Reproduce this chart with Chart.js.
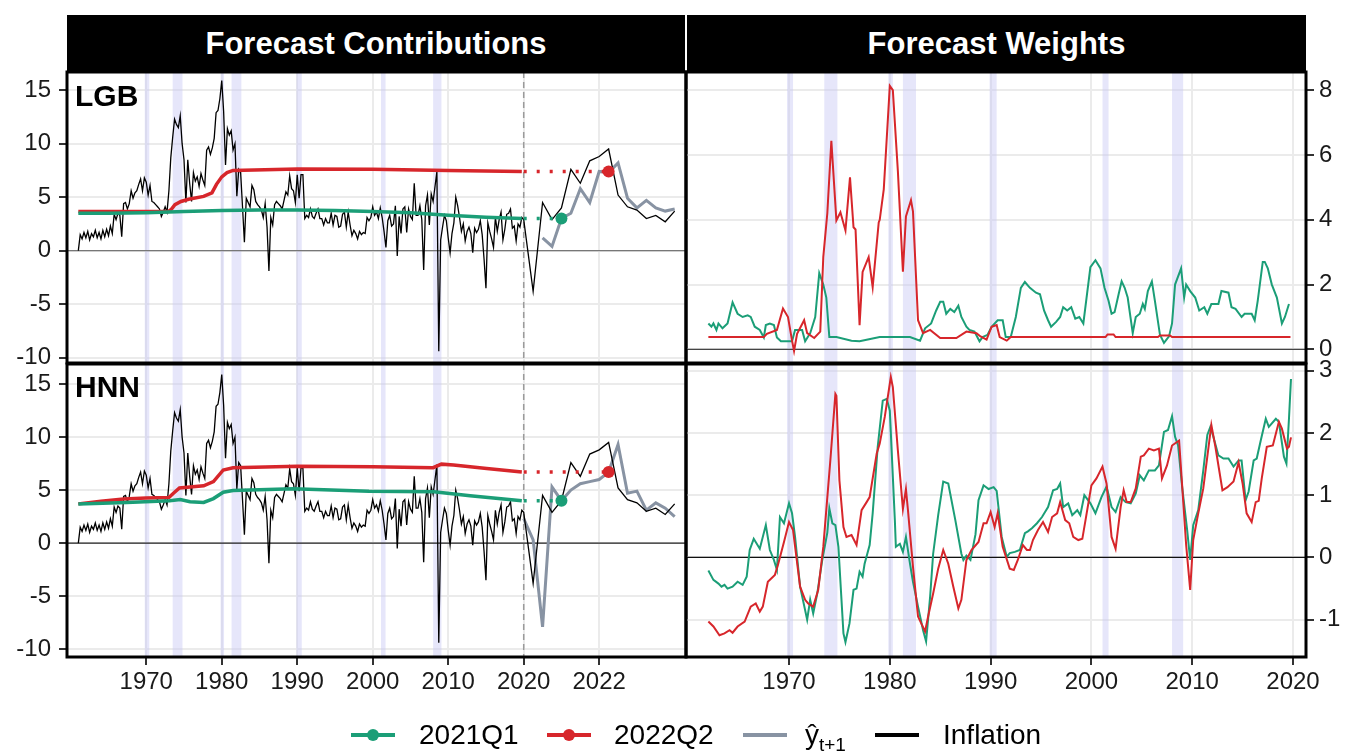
<!DOCTYPE html>
<html>
<head>
<meta charset="utf-8">
<script src="https://cdn.jsdelivr.net/npm/chart.js@4.4.1/dist/chart.umd.min.js"></script>
<style>
  body { margin: 0; width: 1346px; height: 751px; overflow: hidden; position: relative; background: #fff;
         font-family: "Liberation Sans", Arial, sans-serif; }
  canvas { position: absolute; left: 0; top: 0; }
  .strip { position: absolute; top: 15px; height: 57px; background: #000; color: #fff; font-weight: bold;
           font-size: 31px; display: flex; align-items: center; justify-content: center; }
  .lab { position: absolute; font-weight: bold; font-size: 30px; line-height: 30px; color: #000; }
  .sw { position: absolute; top: 733px; width: 44px; height: 4px; }
  .dot { position: absolute; top: 729px; width: 12px; height: 12px; border-radius: 50%; }
  .lt { position: absolute; top: 719px; font-size: 28px; line-height: 32px; color: #000; }
  .lt sub { font-size: 19px; }
</style>
</head>
<body>
<div class="strip" style="left:67px;width:618px">Forecast Contributions</div>
<div class="strip" style="left:687px;width:619px">Forecast Weights</div>

<canvas id="lt" width="1346" height="751"></canvas>
<canvas id="lb" width="1346" height="751"></canvas>
<canvas id="rt" width="1346" height="751"></canvas>
<canvas id="rb" width="1346" height="751"></canvas>

<div class="lab" style="left:75px;top:81px">LGB</div>
<div class="lab" style="left:75px;top:372px">HNN</div>

<div class="sw" style="left:351px;background:#1b9e77"></div>
<div class="dot" style="left:367px;background:#1b9e77"></div>
<div class="lt" style="left:419px">2021Q1</div>
<div class="sw" style="left:547px;background:#d7262b"></div>
<div class="dot" style="left:563px;background:#d7262b"></div>
<div class="lt" style="left:614px">2022Q2</div>
<div class="sw" style="left:743px;background:#8893a3"></div>
<div class="lt" style="left:805px">ŷ<sub>t+1</sub></div>
<div class="sw" style="left:875px;background:#000"></div>
<div class="lt" style="left:943px">Inflation</div>

<script>
// quarterly inflation, 1961Q1 .. 2024Q1
const START_YEAR = 1961;
const inflation = [
  0.0, 1.5, 1.1, 1.7,   1.2, 1.8, 1.0, 1.6,   1.3, 1.9, 1.2, 1.7,   1.1, 1.9, 1.3, 2.0,   // 1961-64
  1.4, 2.3, 1.6, 3.4,   2.9, 3.5, 3.3, 1.3,   4.4, 4.5, 3.9, 4.4,   5.6, 4.9, 5.4, 5.6,   // 1965-68
  6.2, 6.7, 5.6, 6.8,   6.4, 5.2, 6.1, 4.6,   4.5, 4.3, 4.1, 3.9,   3.2, 3.6, 4.1, 3.6,   // 1969-72
  5.6, 8.7, 10.6, 12.3, 11.8, 11.5, 12.6, 10.0, 8.5, 4.5, 8.5, 6.3,  4.6, 7.3, 6.5, 6.9,  // 1973-76
  6.0, 7.2, 6.6, 6.1,   9.4, 9.7, 9.0, 9.6,   10.5, 12.9, 13.1, 14.2, 15.9, 13.0, 8.0, 11.4, // 1977-80
  10.8, 11.2, 9.4, 10.0, 5.1, 7.6, 7.3, 4.1,  0.8, 4.9, 4.5, 4.1,   6.1, 5.7, 4.6, 4.3,   // 1981-84
  4.1, 3.8, 3.1, 4.4,   2.2, -1.9, 3.1, 2.4,  4.3, 4.6, 4.4, 4.2,   3.9, 4.7, 5.5, 5.2,   // 1985-88
  7.0, 5.8, 5.6, 4.5,   7.1, 4.9, 7.1, 7.1,   3.0, 3.3, 3.1, 3.9,   3.2, 3.0, 3.5, 3.9,   // 1989-92
  3.0, 3.0, 2.4, 3.0,   2.6, 2.6, 3.5, 2.4,   3.3, 3.2, 2.2, 2.3,   3.4, 3.6, 2.2, 3.6,   // 1993-96
  2.4, 1.4, 1.9, 1.6,   1.1, 1.8, 1.5, 1.7,   1.6, 3.1, 2.8, 3.1,   4.1, 3.3, 3.6, 3.0,   // 1997-2000
  4.0, 3.1, 1.8, 0.3,   2.8, 3.3, 2.3, 2.5,   4.2, -0.5, 3.2, 1.6,  3.9, 4.1, 1.7, 3.9,   // 2001-04
  3.2, 2.9, 6.3, 3.3,   3.3, 4.2, 2.9, -1.8,  4.2, 5.2, 2.4, 5.3,   4.6, 6.0, 7.4, -9.4,  // 2005-08
  1.0, 2.2, 3.3, 2.8,   1.2, -0.2, 1.6, 2.6,  5.0, 4.2, 3.1, 1.8,   2.5, 0.9, 1.8, 2.2,   // 2009-12
  1.6, -0.2, 2.1, 1.7,  2.0, 2.8, 1.5, -0.8,  -3.5, 2.6, 1.8, 1.1,  0.3, 3.1, 1.8, 2.9,   // 2013-16
  3.6, 1.0, 2.0, 3.4,   3.5, 3.9, 2.1, 2.3,   0.9, 2.5, 2.2, 3.1,                         // 2017-19
  2.9, -3.8, 4.5, 2.9,  4.0, 7.6, 6.3, 8.4,   8.8, 9.5, 5.2, 4.1,   3.8, 3.0, 3.3, 2.7,   // 2020-23
  3.7                                                                                     // 2024
];

// one-step-ahead forecasts, 2020Q1 .. 2024Q1
const yhatLGB = [null, null, 1.2, 0.4, 3.0, 3.5, 5.8, 4.5, 7.4, 7.3, 8.2, 4.9, 4.0, 4.7, 4.0, 3.7, 3.9];
const yhatHNN = [2.3, 0.3, -7.9, 5.3, 4.0, 5.0, 5.6, 5.8, 6.0, 6.7, 9.3, 4.7, 4.9, 3.1, 3.8, 3.3, 2.5];

// forecast contributions [year, value]
const lgbGreen = [[1961,3.5],[1965,3.5],[1970,3.55],[1975,3.65],[1980,3.75],[1985,3.8],[1990,3.8],
  [1995,3.75],[2000,3.67],[2005,3.55],[2010,3.3],[2015,3.12],[2019.75,3.0]];
const lgbRed = [[1961,3.65],[1972.9,3.65],[1973.3,3.85],[1973.8,4.3],[1974.6,4.6],[1975.6,4.8],[1977.6,5.07],
  [1978.7,5.4],[1979.3,6.2],[1980.0,6.9],[1980.7,7.3],[1981.5,7.5],[1990,7.63],[2000,7.62],[2010,7.5],[2019.75,7.4]];
const hnnGreen = [[1961,3.68],[1967.4,3.84],[1973.1,4.0],[1974.5,4.12],[1975.8,3.9],[1977.6,3.84],[1978.9,4.2],
  [1980.2,4.8],[1981.5,4.97],[1989.5,5.13],[1999.5,4.9],[2008.1,4.84],[2012.9,4.47],[2019.75,4.0]];
const hnnRed = [[1961,3.7],[1964,3.95],[1967,4.15],[1970,4.25],[1973,4.3],[1973.6,4.7],[1974.4,5.2],[1977.6,5.4],
  [1978.9,5.8],[1980.2,6.9],[1981.5,7.1],[1990,7.25],[2000,7.2],[2008,7.12],[2009.1,7.45],[2010.7,7.36],
  [2015.1,7.04],[2019.75,6.7]];

// forecast origins and their values
const origin2021Q1 = 2021.0;
const origin2022Q2 = 2022.25;
const lgbDots = [3.0, 7.4];
const hnnDots = [4.0, 6.7];

// forecast weights [year, value]
const lgbWGreen = [[1962.0,0.80],[1962.3,0.70],[1962.5,0.80],[1962.8,0.60],[1963.0,0.80],[1963.4,0.65],[1963.9,0.80],
  [1964.4,1.45],[1964.9,1.10],[1965.4,1.00],[1965.9,1.05],[1966.2,1.00],[1966.6,0.70],[1967.1,0.60],[1967.5,0.37],
  [1967.7,0.75],[1968.1,0.80],[1968.5,0.75],[1968.8,0.37],[1969.2,0.25],[1970.3,0.25],[1970.6,0.60],[1971.3,0.60],
  [1971.6,0.25],[1972.1,0.50],[1972.6,1.00],[1973.0,2.35],[1973.4,2.00],[1973.7,1.60],[1974.0,0.38],[1974.7,0.38],
  [1975.5,0.32],[1976.2,0.27],[1977.0,0.25],[1977.7,0.30],[1979.0,0.38],[1982.0,0.38],[1983.0,0.27],[1983.5,0.65],
  [1984.1,0.80],[1984.6,1.20],[1985.0,1.47],[1985.3,1.47],[1985.6,1.10],[1986.0,1.25],[1986.4,1.15],[1986.8,1.35],
  [1987.1,1.00],[1987.6,0.70],[1987.9,0.60],[1988.4,0.55],[1988.9,0.25],[1989.2,0.38],[1989.7,0.45],[1990.1,0.70],
  [1990.7,0.90],[1991.2,0.90],[1991.5,0.38],[1992.0,0.38],[1992.5,1.00],[1993.0,1.90],[1993.4,2.08],[1993.9,1.90],
  [1994.5,1.75],[1994.9,1.70],[1995.3,1.20],[1995.7,0.90],[1996.0,0.70],[1996.5,0.85],[1996.9,1.00],[1997.2,1.30],
  [1997.6,1.20],[1998.0,1.30],[1998.4,0.95],[1998.8,1.00],[1999.2,0.80],[1999.9,2.54],[2000.4,2.75],[2000.9,2.50],
  [2001.3,1.90],[2001.7,1.50],[2002.0,1.10],[2002.3,1.15],[2002.7,1.70],[2003.0,2.10],[2003.3,1.90],[2003.6,1.60],
  [2004.1,0.50],[2004.4,1.00],[2004.8,1.10],[2005.1,1.40],[2005.3,1.25],[2005.6,1.80],[2006.0,2.10],[2006.3,1.50],
  [2006.8,0.45],[2007.2,0.20],[2007.7,0.40],[2008.0,0.80],[2008.3,2.00],[2008.9,2.50],[2009.2,1.60],[2009.4,2.00],
  [2009.8,1.80],[2010.3,1.60],[2010.7,1.20],[2011.2,1.30],[2011.5,1.10],[2011.9,1.40],[2012.6,1.40],[2012.9,1.80],
  [2013.6,1.75],[2013.9,1.30],[2014.3,1.25],[2014.9,1.00],[2015.2,1.10],[2015.9,1.10],[2016.2,0.90],[2016.5,1.50],
  [2017.0,2.70],[2017.2,2.70],[2017.5,2.50],[2017.9,2.00],[2018.4,1.60],[2018.9,0.80],[2019.2,1.00],[2019.6,1.40]];
const lgbWRed = [[1962.0,0.38],[1967.5,0.38],[1967.8,0.48],[1968.8,0.60],[1969.4,1.26],[1969.9,1.00],[1970.3,0.27],
  [1970.5,-0.05],[1970.8,0.48],[1971.5,0.90],[1971.8,0.50],[1972.5,0.35],[1973.1,0.55],[1973.4,2.85],[1973.8,4.20],
  [1974.2,6.44],[1974.7,3.98],[1975.1,4.23],[1975.6,3.67],[1976.05,5.31],[1976.4,3.77],[1976.6,3.70],[1977.0,0.75],
  [1977.3,2.39],[1977.9,2.85],[1978.3,1.92],[1978.9,3.92],[1979.0,4.00],[1979.4,4.94],[1980.0,8.13],[1980.3,8.00],
  [1980.8,5.50],[1981.3,2.40],[1981.6,4.10],[1982.1,4.60],[1982.3,4.25],[1982.8,0.90],[1983.3,0.50],[1984.0,0.60],
  [1985.0,0.35],[1986.6,0.35],[1987.6,0.55],[1988.6,0.50],[1989.0,0.40],[1989.6,0.30],[1990.1,0.70],[1990.6,0.75],
  [1990.9,0.38],[1991.6,0.27],[1992.0,0.38],[2001.4,0.38],[2001.6,0.46],[2002.2,0.46],[2002.4,0.38],[2006.6,0.38],
  [2006.8,0.43],[2007.8,0.43],[2008.0,0.38],[2019.75,0.38]];
const hnnWGreen = [[1962.0,-0.21],[1962.5,-0.36],[1963.0,-0.42],[1963.3,-0.47],[1963.6,-0.44],[1963.9,-0.50],
  [1964.4,-0.47],[1964.9,-0.39],[1965.4,-0.44],[1965.8,-0.31],[1966.1,0.12],[1966.5,0.30],[1967.1,0.14],[1967.7,0.52],
  [1968.1,0.12],[1968.5,-0.04],[1968.8,-0.20],[1969.1,0.65],[1969.5,0.55],[1970.0,0.87],[1970.3,0.71],[1970.6,0.33],
  [1971.1,-0.47],[1971.8,-1.00],[1972.1,-0.68],[1972.4,-0.90],[1972.8,-0.58],[1973.3,-0.04],[1973.8,0.40],
  [1974.0,0.79],[1974.3,0.55],[1974.6,0.52],[1974.9,0.17],[1975.4,-1.22],[1975.6,-1.36],[1976.0,-1.06],[1976.4,-0.52],
  [1976.7,-0.50],[1977.0,-0.23],[1977.3,-0.31],[1977.5,-0.10],[1978.0,0.20],[1978.3,0.71],[1978.8,1.78],[1979.3,2.52],
  [1979.7,2.55],[1980.0,2.36],[1980.5,0.60],[1980.6,0.17],[1981.0,0.22],[1981.3,0.09],[1981.6,0.33],[1982.0,-0.10],
  [1982.3,-0.39],[1982.8,-0.79],[1983.3,-1.17],[1983.6,-1.35],[1984.0,-0.63],[1984.3,0.06],[1984.8,0.68],[1985.3,1.22],
  [1985.8,1.19],[1986.5,0.60],[1987.1,0.06],[1987.3,-0.04],[1987.6,0.03],[1988.0,-0.04],[1988.5,0.37],[1988.8,0.92],
  [1989.3,1.16],[1989.8,1.10],[1990.3,1.13],[1990.6,1.07],[1991.1,0.33],[1991.6,0.01],[1991.9,0.07],[1992.4,0.09],
  [1992.9,0.12],[1993.4,0.39],[1993.7,0.42],[1994.1,0.47],[1994.6,0.55],[1995.1,0.65],[1995.4,0.73],[1995.7,0.81],
  [1996.2,1.08],[1996.6,1.10],[1996.9,1.19],[1997.2,0.81],[1997.7,0.87],[1998.1,0.68],[1998.6,0.76],[1998.9,0.68],
  [1999.3,1.00],[1999.9,0.87],[2000.4,0.71],[2001.0,0.97],[2001.5,1.14],[2002.0,0.81],[2002.4,0.73],[2002.9,0.97],
  [2003.4,0.89],[2003.9,0.87],[2004.4,1.03],[2004.8,1.32],[2005.2,1.24],[2005.7,1.40],[2006.3,1.40],[2006.7,1.48],
  [2007.2,2.02],[2007.6,2.05],[2008.0,2.27],[2008.3,1.94],[2008.6,1.80],[2009.0,1.14],[2009.5,0.44],[2009.8,-0.04],
  [2010.1,0.52],[2010.6,0.76],[2011.1,1.40],[2011.5,1.97],[2011.8,2.10],[2012.1,1.94],[2012.6,1.64],[2013.1,1.59],
  [2013.6,1.59],[2014.1,1.46],[2014.6,1.56],[2014.9,1.56],[2015.3,0.92],[2015.6,1.06],[2016.1,1.56],[2016.4,1.59],
  [2016.8,1.88],[2017.3,2.23],[2017.6,2.10],[2018.3,2.23],[2018.6,2.18],[2019.1,1.62],[2019.35,1.51],[2019.6,2.23],
  [2019.8,2.87]];
const hnnWRed = [[1962.0,-1.03],[1962.5,-1.11],[1963.1,-1.25],[1963.6,-1.22],[1964.1,-1.17],[1964.4,-1.21],
  [1964.9,-1.11],[1965.6,-1.03],[1966.2,-0.79],[1966.7,-0.74],[1967.1,-0.87],[1967.4,-0.79],[1967.9,-0.39],
  [1968.6,-0.28],[1968.9,-0.12],[1969.5,0.25],[1970.0,0.57],[1970.4,0.44],[1971.1,-0.47],[1971.6,-0.68],[1971.9,-0.74],
  [1972.4,-0.79],[1972.9,-0.52],[1973.4,0.17],[1974.1,1.56],[1974.6,2.63],[1974.7,2.60],[1975.0,1.24],[1975.4,0.49],
  [1975.7,0.33],[1976.2,0.36],[1976.7,0.20],[1977.2,0.76],[1977.7,0.89],[1978.0,0.97],[1978.7,1.67],[1979.0,1.83],
  [1979.5,2.26],[1980.1,2.90],[1980.3,2.74],[1980.8,1.72],[1981.3,0.78],[1981.6,1.10],[1981.8,0.76],[1982.3,-0.15],
  [1982.8,-0.95],[1983.5,-1.19],[1983.8,-0.95],[1984.3,-0.58],[1984.8,-0.18],[1985.3,0.12],[1985.8,-0.10],
  [1986.3,-0.47],[1986.8,-0.82],[1987.1,-0.68],[1987.6,-0.04],[1988.1,0.12],[1988.8,0.25],[1989.3,0.55],[1989.6,0.55],
  [1990.0,0.73],[1990.4,0.49],[1990.7,0.71],[1991.2,0.17],[1991.9,-0.18],[1992.3,-0.20],[1992.7,-0.04],[1993.2,0.20],
  [1993.6,0.12],[1993.9,0.12],[1994.2,0.28],[1994.7,0.44],[1995.2,0.57],[1995.7,0.41],[1996.1,0.65],[1996.6,0.71],
  [1996.9,0.89],[1997.4,0.60],[1997.8,0.55],[1998.2,0.33],[1998.7,0.28],[1999.1,0.30],[1999.5,0.68],[2000.0,1.16],
  [2000.5,1.27],[2001.1,1.46],[2001.5,1.19],[2002.0,0.33],[2002.4,0.14],[2002.9,0.81],[2003.2,1.08],[2003.5,0.89],
  [2003.9,0.89],[2004.4,1.11],[2004.9,1.62],[2005.2,1.64],[2005.7,1.75],[2006.2,1.72],[2006.7,1.75],[2007.0,1.27],
  [2007.5,1.48],[2008.0,1.80],[2008.7,1.88],[2009.0,1.16],[2009.4,0.20],[2009.8,-0.52],[2010.1,0.28],[2010.6,0.71],
  [2011.1,1.11],[2011.5,1.62],[2011.9,2.13],[2012.3,1.78],[2013.0,1.08],[2013.5,1.13],[2014.1,1.22],[2014.6,1.53],
  [2015.0,1.19],[2015.4,0.71],[2015.9,0.57],[2016.3,0.89],[2016.6,0.91],[2016.9,1.27],[2017.4,1.78],[2018.0,1.80],
  [2018.6,2.18],[2018.9,2.07],[2019.4,1.75],[2019.6,1.78],[2019.8,1.93]];

// recession bands [start, end]
const recessions = [[1969.8,1970.4],[1973.5,1974.8],[1979.85,1980.3],[1981.3,1982.6],[1989.9,1990.6],
  [2001.1,2001.7],[2008.0,2009.1]];

const leftXTicks = [1970, 1980, 1990, 2000, 2010, 2020, 2022];
const rightXTicks = [1970, 1980, 1990, 2000, 2010, 2020];
const contribYTicks = [-10, -5, 0, 5, 10, 15];
const lgbWeightTicks = [0, 2, 4, 6, 8];
const hnnWeightTicks = [-1, 0, 1, 2, 3];

const GREEN = '#1b9e77';
const RED = '#d7262b';
const GREY = '#8893a3';
const FONT = { family: '"Liberation Sans", Arial, sans-serif', size: 24 };

// after 2020 the left panels zoom in on the quarters
const SPLIT = 2020, STRETCH = 5;
const posLeft = t => t <= SPLIT ? t : SPLIT + (t - SPLIT) * STRETCH;
const posRight = t => t;
const quarter = i => START_YEAR + i / 4;

const decor = {
  id: 'decor',
  beforeDatasetsDraw(chart, args, o) {
    const { ctx, chartArea: a, scales: { x, y } } = chart;
    ctx.save();
    ctx.beginPath();
    ctx.rect(a.left, a.top, a.width, a.height);
    ctx.clip();
    ctx.fillStyle = 'rgba(200,200,245,0.45)';
    recessions.forEach(([s, e]) => {
      const x0 = x.getPixelForValue(o.pos(s));
      const x1 = x.getPixelForValue(o.pos(e));
      ctx.fillRect(x0, a.top, x1 - x0, a.height);
    });
    const y0 = y.getPixelForValue(0);
    ctx.strokeStyle = o.zeroColor;
    ctx.lineWidth = 1.2;
    ctx.beginPath();
    ctx.moveTo(a.left, y0);
    ctx.lineTo(a.right, y0);
    ctx.stroke();
    if (o.split) {
      const xs = x.getPixelForValue(SPLIT);
      ctx.strokeStyle = '#9a9a9a';
      ctx.lineWidth = 1.5;
      ctx.setLineDash([6, 4]);
      ctx.beginPath();
      ctx.moveTo(xs, a.top);
      ctx.lineTo(xs, a.bottom);
      ctx.stroke();
    }
    ctx.restore();
  },
  afterDraw(chart) {
    const { ctx, chartArea: a } = chart;
    ctx.save();
    ctx.strokeStyle = '#000';
    ctx.lineWidth = 3;
    ctx.strokeRect(a.left, a.top, a.width, a.height);
    ctx.restore();
  }
};

function line(points, color, width, extra) {
  return Object.assign({ data: points, borderColor: color, backgroundColor: color, borderWidth: width,
    pointRadius: 0, fill: false, tension: 0, spanGaps: false }, extra || {});
}

function pairs(list, pos) {
  return list.map(([t, v]) => ({ x: pos(t), y: v }));
}

function contribDatasets(green, red, yhat, dots) {
  const gEnd = green[green.length - 1][1];
  const rEnd = red[red.length - 1][1];
  const infl = inflation.map((v, i) => ({ x: posLeft(quarter(i)), y: v }));
  const offset = (SPLIT - START_YEAR) * 4;
  const fc = yhat.map((v, i) => ({ x: posLeft(quarter(offset + i)), y: v }));
  const dotStyle = { showLine: false, pointRadius: 6, pointHoverRadius: 6, pointBorderWidth: 0 };
  return [
    line([{ x: posLeft(origin2021Q1), y: dots[0] }], GREEN, 0, dotStyle),
    line([{ x: posLeft(origin2022Q2), y: dots[1] }], RED, 0, dotStyle),
    line(pairs(green, posLeft), GREEN, 3.5),
    line(pairs(red, posLeft), RED, 3.5),
    line([{ x: SPLIT, y: gEnd }, { x: posLeft(origin2021Q1), y: dots[0] }], GREEN, 3.5, { borderDash: [3, 10] }),
    line([{ x: SPLIT, y: rEnd }, { x: posLeft(origin2022Q2), y: dots[1] }], RED, 3.5, { borderDash: [3, 10] }),
    line(infl, '#000', 1.3),
    line(fc, GREY, 3)
  ];
}

function panel(id, cfg) {
  const r = cfg.rect;
  const left = cfg.ySide === 'left';
  const yW = left ? 67 : 40;
  const xH = cfg.showX ? 40 : 0;
  const padding = {
    left: left ? r.l - yW : r.l,
    right: left ? 1346 - r.r : 1346 - r.r - yW,
    top: r.t,
    bottom: 751 - r.b - xH
  };
  return new Chart(document.getElementById(id), {
    type: 'line',
    data: { datasets: cfg.datasets },
    options: {
      responsive: false,
      animation: false,
      events: [],
      devicePixelRatio: 1,
      layout: { padding },
      plugins: { legend: { display: false }, tooltip: { enabled: false },
                 decor: { pos: cfg.pos, zeroColor: cfg.zeroColor, split: cfg.split } },
      scales: {
        x: {
          type: 'linear', position: 'bottom', min: cfg.xMin, max: cfg.xMax,
          afterBuildTicks: s => { s.ticks = cfg.xTicks.map(t => ({ value: cfg.pos(t) })); },
          afterFit: s => { s.height = xH; },
          border: { display: false },
          grid: { color: '#ebebeb', lineWidth: 2, drawTicks: cfg.showX, tickLength: 8,
                  tickColor: '#333', tickWidth: 2 },
          ticks: { display: cfg.showX, autoSkip: false, maxRotation: 0, font: FONT, color: '#1a1a1a', padding: 3,
                   callback: v => String(cfg.xTicks[cfg.xTicks.map(cfg.pos).indexOf(v)]) }
        },
        y: {
          type: 'linear', position: cfg.ySide, min: cfg.yMin, max: cfg.yMax,
          afterBuildTicks: s => { s.ticks = cfg.yTicks.map(v => ({ value: v })); },
          afterFit: s => { s.width = yW; },
          border: { display: false },
          grid: { color: '#ebebeb', lineWidth: 2, tickLength: 8, tickColor: '#333', tickWidth: 2 },
          ticks: { font: FONT, color: '#1a1a1a', padding: left ? 8 : 5, callback: v => String(v) }
        }
      }
    },
    plugins: [decor]
  });
}

panel('lt', {
  rect: { l: 67, t: 72, r: 686, b: 363 }, ySide: 'left', showX: false, split: true,
  pos: posLeft, xMin: 1959.5, xMax: 2041.5, xTicks: leftXTicks,
  yMin: -10.5, yMax: 16.7, yTicks: contribYTicks, zeroColor: '#777',
  datasets: contribDatasets(lgbGreen, lgbRed, yhatLGB, lgbDots)
});
panel('lb', {
  rect: { l: 67, t: 364, r: 686, b: 657 }, ySide: 'left', showX: true, split: true,
  pos: posLeft, xMin: 1959.5, xMax: 2041.5, xTicks: leftXTicks,
  yMin: -10.75, yMax: 16.9, yTicks: contribYTicks, zeroColor: '#222',
  datasets: contribDatasets(hnnGreen, hnnRed, yhatHNN, hnnDots)
});
panel('rt', {
  rect: { l: 686, t: 72, r: 1306, b: 363 }, ySide: 'right', showX: false, split: false,
  pos: posRight, xMin: 1959.78, xMax: 2021.29, xTicks: rightXTicks,
  yMin: -0.42, yMax: 8.56, yTicks: lgbWeightTicks, zeroColor: '#444',
  datasets: [line(pairs(lgbWRed, posRight), RED, 2), line(pairs(lgbWGreen, posRight), GREEN, 2)]
});
panel('rb', {
  rect: { l: 686, t: 364, r: 1306, b: 657 }, ySide: 'right', showX: true, split: false,
  pos: posRight, xMin: 1959.78, xMax: 2021.29, xTicks: rightXTicks,
  yMin: -1.6, yMax: 3.11, yTicks: hnnWeightTicks, zeroColor: '#111',
  datasets: [line(pairs(hnnWRed, posRight), RED, 2), line(pairs(hnnWGreen, posRight), GREEN, 2)]
});
</script>
</body>
</html>
